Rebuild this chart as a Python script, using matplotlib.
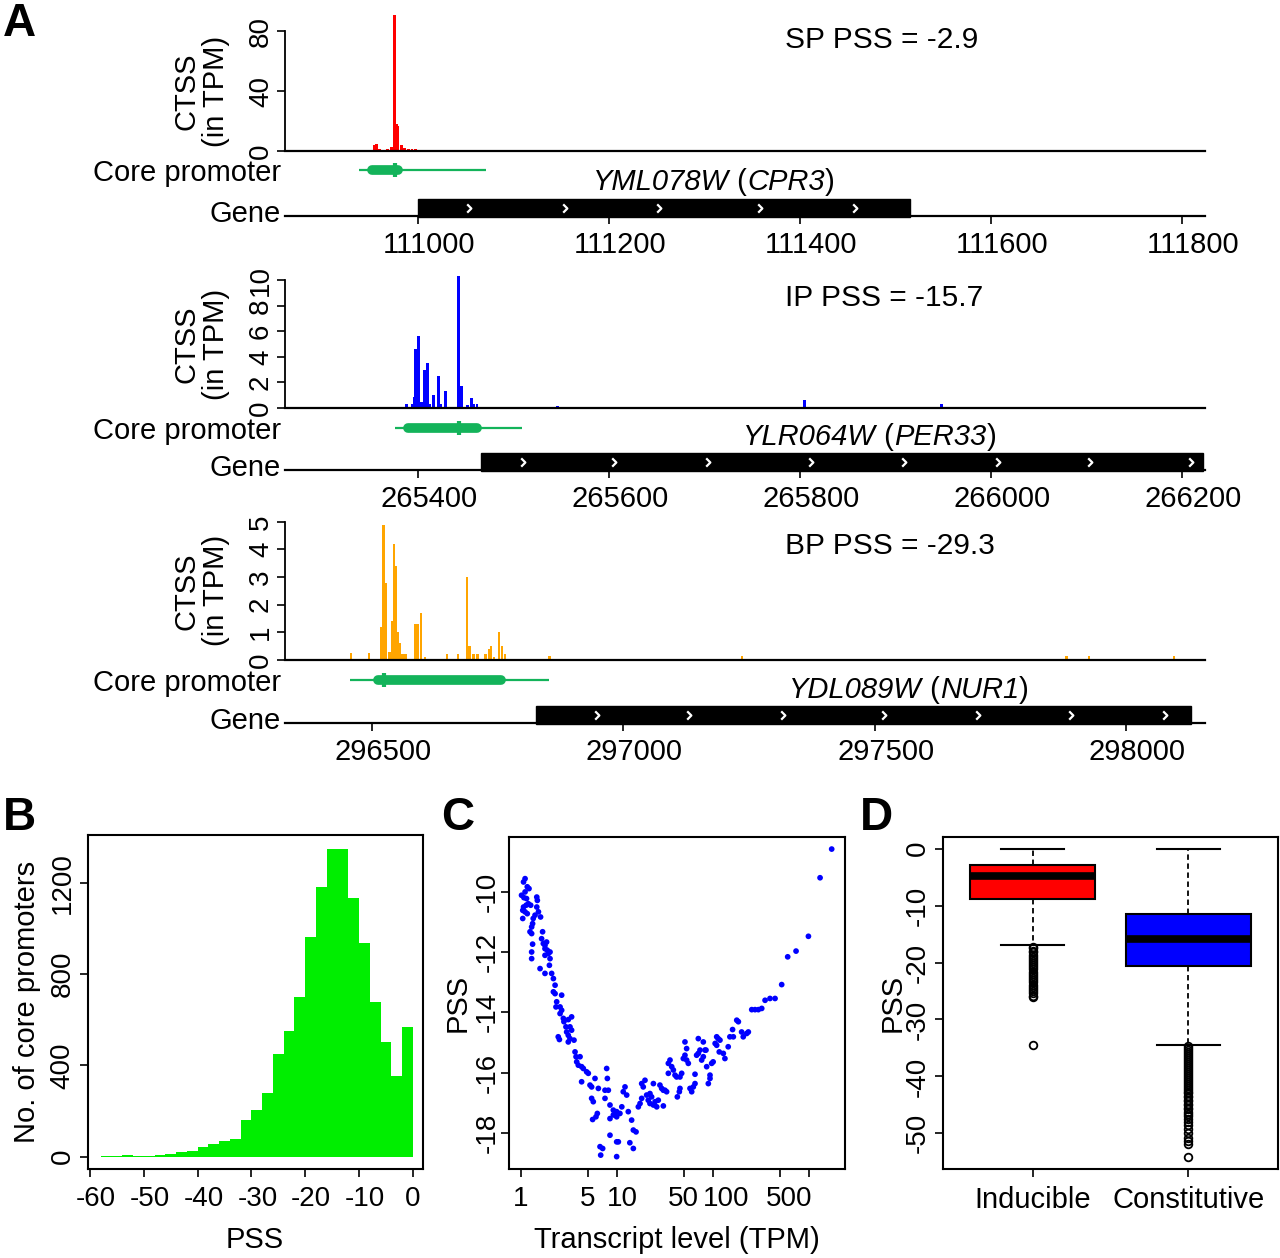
#
# Core promoter shape figure: CTSS tracks (A), PSS histogram (B),
# PSS vs transcript level (C) and PSS by promoter class (D)
#

import matplotlib
matplotlib.use("Agg")
import matplotlib.pyplot as plt
from matplotlib.patches import Rectangle
from matplotlib.path import Path
from matplotlib.transforms import ScaledTranslation
from matplotlib.offsetbox import TextArea, HPacker, AnnotationBbox

plt.rcParams['font.family'] = ['Liberation Sans', 'DejaVu Sans']
plt.rcParams['axes.unicode_minus'] = False

# ---------------- data: panel A ----------------
sp_pos = [110955, 110957, 110960, 110964, 110968, 110972, 110973, 110976,
          110978, 110979, 110983, 110986, 110990, 110994, 110998, 111002,
          111032, 111277, 111339]
sp_tpm = [4, 4.5, 1.5, 1, 1.5, 2.5, 3, 91, 18, 17, 4, 2, 1.5, 1.5, 1.5, 1,
          1, 0.6, 0.6]
sp_promoter = (110938, 110952, 110979, 111071)   # thin start, thick start, thick end, thin end
sp_dominant = 110976
sp_gene = (111000, 111515)
sp_chevrons = [111054, 111154, 111253, 111358, 111458]

ip_pos = [265388, 265394, 265396, 265398, 265401, 265404, 265407, 265410,
          265412, 265416, 265422, 265424, 265429, 265443, 265446, 265452,
          265456, 265458, 265462, 265546, 265805, 265948]
ip_tpm = [0.3, 0.3, 0.9, 4.6, 5.6, 0.5, 3.0, 3.5, 0.3, 1.0, 2.5, 0.3, 1.3,
          10.3, 1.7, 0.2, 0.8, 0.3, 0.3, 0.15, 0.6, 0.3]
ip_promoter = (265376, 265390, 265462, 265509)
ip_dominant = 265443
ip_gene = (265466, 266222)
ip_chevrons = [265510, 265605, 265704, 265812, 265909, 266007, 266104, 266209]

bp_pos = [296458, 296494, 296519, 296523, 296527, 296535, 296540, 296544,
          296548, 296552, 296556, 296560, 296564, 296568, 296587, 296592,
          296598, 296605, 296649, 296671, 296689, 296694, 296702, 296710,
          296726, 296733, 296737, 296743, 296753, 296759, 296765, 296853,
          297236, 297882, 297926, 298095]
bp_tpm = [0.25, 0.25, 1.2, 4.9, 2.8, 0.3, 1.4, 4.2, 3.4, 1.0, 0.6, 0.2, 0.2,
          0.2, 1.3, 1.3, 1.7, 0.1, 0.2, 0.2, 3.0, 0.5, 0.2, 0.2, 0.2, 0.4,
          0.5, 0.1, 1.0, 0.5, 0.2, 0.15, 0.15, 0.15, 0.15, 0.15]
bp_promoter = (296456, 296511, 296757, 296853)
bp_dominant = 296523
bp_gene = (296826, 298130)
bp_chevrons = [296948, 297131, 297317, 297518, 297705, 297890, 298078]

# ---------------- data: panel B ----------------
hist_left = [-58, -56, -54, -52, -50, -48, -46, -44, -42, -40, -38, -36, -34,
             -32, -30, -28, -26, -24, -22, -20, -18, -16, -14, -12, -10, -8,
             -6, -4, -2]
hist_counts = [2, 4, 8, 5, 4, 6, 12, 22, 27, 42, 55, 67, 78, 162, 203, 277,
               448, 551, 701, 963, 1182, 1348, 1348, 1131, 937, 679, 501, 355,
               569]

# ---------------- data: panel C ----------------
transcript_tpm = [
    1.11, 1.07, 1.17, 1.22, 1.11, 1.02, 1.08, 1.15, 1.47, 1.49, 1.07, 1.14,
    1.20, 1.27, 1.05, 1.11, 1.17, 1.47, 1.53, 1.41, 1.61, 1.05, 1.35, 1.33,
    1.30, 1.25, 1.30, 1.69, 1.65, 1.33, 1.72, 1.79, 1.86, 1.79, 1.89, 1.94,
    1.79, 2.02, 1.30, 1.30, 2.02, 1.99, 1.59, 1.79, 2.10, 2.19, 2.28, 2.19,
    2.28, 2.67, 2.37, 2.33, 2.57, 2.67, 2.57, 2.78, 3.39, 3.13, 2.82, 2.96,
    3.26, 3.39, 3.01, 3.13, 3.26, 2.46, 2.53, 3.59, 3.13, 3.68, 3.77, 4.15,
    3.83, 3.98, 4.31, 4.49, 4.86, 5.06, 4.31, 5.94, 5.27, 5.48, 6.44, 7.86,
    7.99, 7.55, 8.18, 5.48, 5.70, 7.55, 8.51, 9.22, 9.99, 9.22, 8.51, 9.99,
    10.8, 11.3, 12.2, 11.7, 12.7, 13.2, 14.3, 6.28, 6.08, 5.61, 8.51, 6.70,
    7.14, 6.81, 9.99, 10.4, 9.99, 13.7,
    14.9, 15.9, 14.9, 16.8, 17.5, 18.2, 18.2, 19.7, 18.9, 20.5, 21.3, 22.2,
    23.1, 24.1, 22.2, 24.1, 25.1, 26.1, 27.1, 28.2, 29.4, 30.6, 31.8, 33.1,
    30.6, 34.5, 35.9, 37.4, 34.5, 38.9, 40.5, 42.1, 47.5, 45.6, 42.8, 44.9,
    45.6, 58.0, 60.4, 62.8, 65.4, 65.4, 51.4, 53.5, 51.4, 53.5, 55.7, 49.4,
    68.0, 70.8, 73.7, 76.7, 79.8, 85.1, 86.5, 97.5, 101, 90.0, 93.7, 93.7,
    70.8, 79.8, 83.1, 110, 114, 106, 119, 110, 117, 129, 134, 145, 151, 164,
    161, 178, 185, 200, 208, 226, 235, 255, 276, 299, 324, 351, 395, 446,
    523, 604, 738, 993, 1313, 1735]
transcript_pss = [
    -9.57, -9.68, -9.84, -9.90, -10.01, -10.12, -10.20, -10.23, -10.18,
    -10.29, -10.51, -10.45, -10.40, -10.45, -10.62, -10.67, -10.73, -10.51,
    -10.67, -10.78, -10.84, -10.89, -10.89, -11.06, -11.17, -11.33, -11.39,
    -11.33, -11.56, -11.74, -11.72, -11.78, -11.67, -11.89, -11.94, -12.05,
    -12.11, -12.00, -12.00, -12.22, -12.22, -12.44, -12.55, -12.71, -12.71,
    -12.88, -13.10, -13.32, -13.38, -13.43, -13.65, -13.82, -13.82, -13.93,
    -14.04, -14.20, -14.15, -14.24, -14.31, -14.48, -14.48, -14.59, -14.65,
    -14.76, -14.87, -14.81, -14.90, -14.92, -14.98, -15.31, -15.47, -15.47,
    -15.64, -15.75, -15.80, -15.86, -15.97, -16.02, -16.30, -16.19, -16.41,
    -16.47, -16.52, -15.86, -16.19, -16.58, -16.58, -16.85, -16.96, -16.85,
    -17.07, -17.24, -17.29, -17.40, -17.52, -17.46, -17.35, -17.13, -16.47,
    -16.63, -16.74, -17.29, -17.57, -17.35, -17.46, -17.55, -18.07, -18.45,
    -18.51, -18.73, -18.29, -18.29, -18.78, -18.32,
    -17.90, -17.96, -18.51, -17.13, -17.02, -16.85, -16.36, -16.25, -16.47,
    -16.74, -16.91, -16.69, -16.80, -16.36, -17.02, -17.07, -16.96, -17.13,
    -16.91, -16.41, -16.52, -16.58, -16.58, -16.63, -17.10, -15.69, -15.58,
    -15.80, -16.02, -15.91, -16.08, -16.14, -16.02, -16.14, -16.80, -16.63,
    -16.52, -16.52, -16.63, -16.47, -16.36, -16.05, -14.98, -15.20, -15.42,
    -15.58, -15.69, -15.53, -15.42, -15.36, -15.25, -15.58, -15.47, -15.25,
    -15.80, -15.69, -15.64, -16.36, -16.19, -16.08, -14.87, -14.98, -15.25,
    -14.81, -14.87, -15.03, -14.92, -15.09, -15.31, -15.36, -15.53, -15.14,
    -14.81, -14.81, -14.57, -14.26, -14.31, -14.65, -14.81, -14.70, -14.65,
    -13.91, -13.91, -13.91, -13.87, -13.60, -13.54, -13.54, -13.08, -12.16,
    -11.97, -11.48, -9.54, -8.59]
log_ticks = [1, 5, 10, 50, 100, 500, 1000]
log_tick_labels = ['1', '5', '10', '50', '100', '500', '']

# ---------------- data: panel D ----------------
classes = ['Inducible', 'Constitutive']
box_median = [-4.85, -15.9]
box_q1 = [-8.8, -20.7]
box_q3 = [-2.9, -11.5]
whisker_low = [-17.0, -34.4]
whisker_high = [0.0, 0.0]
inducible_outliers = [-17.2, -17.5, -17.9, -18.2, -18.6, -19.0, -19.3, -19.7,
                      -20.1, -20.4, -20.8, -21.2, -21.6, -22.0, -22.3, -22.7,
                      -23.1, -23.5, -23.9, -24.3, -24.7, -25.0, -25.4, -25.8,
                      -26.1, -34.5]
constitutive_outliers = [-34.6, -35.0, -35.3, -35.7, -36.0, -36.4, -36.7,
                         -37.1, -37.4, -37.8, -38.1, -38.5, -38.8, -39.2,
                         -39.5, -39.9, -40.2, -40.6, -40.9, -41.3, -41.6,
                         -42.0, -42.3, -42.7, -43.0, -43.4, -43.7, -44.1,
                         -44.4, -44.8, -45.1, -45.5, -45.8, -46.2, -46.6,
                         -47.0, -47.5, -48.0, -48.6, -49.3, -49.9, -50.8,
                         -51.3, -51.8, -54.1]

GREEN = '#13b35a'
W, H = 1280, 1258


def frame(left, top, right, bottom):
    """Axes rectangle in figure fractions from pixel edges."""
    return [left / W, 1 - bottom / H, (right - left) / W, (bottom - top) / H]


def fx(x):
    return x / W


def fy(y):
    return 1 - y / H


def nudge_xlabels(fig, ax, shifts):
    """Shift x tick labels sideways by a few pixels (R label placement)."""
    for label, dx in zip(ax.get_xticklabels(), shifts):
        offset = ScaledTranslation(dx / fig.dpi, 0, fig.dpi_scale_trans)
        label.set_transform(label.get_transform() + offset)


chevron = Path([(-0.55, 1.0), (0.45, 0.0), (-0.55, -1.0)],
               [Path.MOVETO, Path.LINETO, Path.LINETO])


def gene_label(ax, x, y, systematic, common):
    """Gene name with italic names and upright parentheses."""
    italic = dict(fontsize=21, style='italic')
    upright = dict(fontsize=21)
    parts = [TextArea(systematic, textprops=italic),
             TextArea(' (', textprops=upright),
             TextArea(common, textprops=italic),
             TextArea(')', textprops=upright)]
    box = HPacker(children=parts, align='baseline', pad=0, sep=0)
    ab = AnnotationBbox(box, (x, y), xycoords='data', frameon=False,
                        box_alignment=(0.5, 0.5), pad=0,
                        annotation_clip=False)
    ax.add_artist(ab)


def draw_track(fig, pos, tpm, color, bar_width, ymax, yticks, xlim, xticks,
               promoter, dominant, gene, names, name_x, chevrons,
               pss_text, top, base, prom_y, axis_y, name_y):
    """CTSS histogram, core promoter, gene model and genome axis."""
    ax = fig.add_axes(frame(285, top, 1205, base))
    ax.bar(pos, tpm, width=bar_width, color=color, linewidth=0)
    ax.set_xlim(xlim)
    ax.set_ylim(0, ymax)
    ax.patch.set_alpha(0)
    ax.spines['top'].set_visible(False)
    ax.spines['right'].set_visible(False)
    ax.spines['left'].set_bounds(0, yticks[-1])
    ax.spines['left'].set_linewidth(1.3)
    ax.spines['bottom'].set_linewidth(1.6)
    ax.set_xticks([])
    ax.set_yticks(yticks)
    ax.set_yticklabels([str(t) for t in yticks])
    ax.tick_params(axis='y', length=6, width=1.2, labelsize=20, pad=2)
    plt.setp(ax.get_yticklabels(), rotation=90, va='center')

    tick_top = base - yticks[-1] * (base - top) / ymax
    mid = fy((tick_top + base) / 2)
    fig.text(fx(186), mid, 'CTSS', rotation=90, ha='center', va='center',
             fontsize=21)
    fig.text(fx(216), mid, '(in TPM)', rotation=90, ha='center',
             va='center', fontsize=21)
    fig.text(fx(785), fy(top + 28), pss_text, ha='left', va='center',
             fontsize=21.5)

    ax2 = fig.add_axes(frame(285, base, 1205, axis_y))
    ax2.set_xlim(xlim)
    ax2.set_ylim(axis_y, base)
    ax2.patch.set_alpha(0)
    for side in ['top', 'left', 'right']:
        ax2.spines[side].set_visible(False)
    ax2.spines['bottom'].set_linewidth(1.6)
    ax2.set_yticks([])
    ax2.set_xticks(xticks)
    ax2.set_xticklabels([str(t) for t in xticks])
    ax2.tick_params(axis='x', length=6, width=1.2, labelsize=21, pad=5)
    nudge_xlabels(fig, ax2, [11] * len(xticks))

    ax2.hlines(prom_y, promoter[0], promoter[3], color=GREEN, lw=1.6)
    ax2.plot([promoter[1], promoter[2]], [prom_y, prom_y], color=GREEN,
             lw=7, solid_capstyle='round')
    ax2.vlines(dominant, prom_y - 7, prom_y + 7, color=GREEN, lw=3)

    ax2.add_patch(Rectangle((gene[0], axis_y - 17), gene[1] - gene[0], 18,
                            facecolor='black', edgecolor='black',
                            clip_on=False, zorder=3))
    ax2.plot(chevrons, [axis_y - 8] * len(chevrons), ls='none',
             marker=chevron, ms=6, mew=1.6, mec='white', mfc='none',
             clip_on=False, zorder=4)
    gene_label(ax2, name_x, name_y, names[0], names[1])

    fig.text(fx(281), fy(prom_y + 3), 'Core promoter', ha='right',
             va='center', fontsize=21)
    fig.text(fx(281), fy(axis_y - 2), 'Gene', ha='right', va='center',
             fontsize=21)


def style_box_axes(ax, ypad=3):
    for side in ax.spines.values():
        side.set_linewidth(1.5)
    ax.tick_params(length=6, width=1.2, labelsize=20)
    ax.tick_params(axis='x', pad=6)
    ax.tick_params(axis='y', pad=ypad)


def make_figure():
    fig = plt.figure(figsize=(12.8, 12.58), dpi=100)

    # ---- panel A ----
    draw_track(fig, sp_pos, sp_tpm, '#ff0000', 3, 92.7, [0, 40, 80],
               (110861, 111824), [111000, 111200, 111400, 111600, 111800],
               sp_promoter, sp_dominant, sp_gene, ('YML078W', 'CPR3'),
               111310, sp_chevrons, 'SP PSS = -2.9', top=12, base=151,
               prom_y=170, axis_y=216, name_y=182)
    draw_track(fig, ip_pos, ip_tpm, '#0000ff', 3, 10.8,
               [0, 2, 4, 6, 8, 10],
               (265261, 266224), [265400, 265600, 265800, 266000, 266200],
               ip_promoter, ip_dominant, ip_gene, ('YLR064W', 'PER33'),
               265873, ip_chevrons, 'IP PSS = -15.7', top=270, base=408,
               prom_y=428, axis_y=470, name_y=437)
    draw_track(fig, bp_pos, bp_tpm, '#ffa500', 5, 5.14,
               [0, 1, 2, 3, 4, 5],
               (296327, 298157), [296500, 297000, 297500, 298000],
               bp_promoter, bp_dominant, bp_gene, ('YDL089W', 'NUR1'),
               297568, bp_chevrons, 'BP PSS = -29.3', top=518, base=660,
               prom_y=680, axis_y=723, name_y=690)

    # ---- panel B ----
    axb = fig.add_axes(frame(88, 835, 423, 1169))
    axb.bar(hist_left, hist_counts, width=2, align='edge', color='#00ee00',
            linewidth=0)
    axb.set_xlim(-60.4, 1.9)
    axb.set_ylim(-54, 1409)
    axb.set_xticks([-60, -50, -40, -30, -20, -10, 0])
    axb.set_yticks([0, 400, 800, 1200])
    style_box_axes(axb)
    plt.setp(axb.get_yticklabels(), rotation=90, va='center')
    nudge_xlabels(fig, axb, [6, 6, 6, 6, 6, 6, 0])
    fig.text(fx(255), fy(1240), 'PSS', ha='center', va='center', fontsize=21)
    fig.text(fx(27), fy(1002), 'No. of core promoters', rotation=90,
             ha='center', va='center', fontsize=21)

    # ---- panel C ----
    axc = fig.add_axes(frame(509, 837, 845, 1169))
    axc.scatter(transcript_tpm, transcript_pss, s=17, color='#0000ff',
                edgecolors='none')
    axc.set_xscale('log')
    axc.set_xlim(10 ** -0.122, 10 ** 3.378)
    axc.set_ylim(-19.19, -8.19)
    axc.set_xticks(log_ticks)
    axc.set_xticklabels(log_tick_labels)
    axc.minorticks_off()
    axc.set_yticks([-18, -16, -14, -12, -10])
    style_box_axes(axc, ypad=0)
    plt.setp(axc.get_yticklabels(), rotation=90, va='center')
    nudge_xlabels(fig, axc, [0, 0, 6, 0, 13, 9, 0])
    fig.text(fx(677), fy(1240), 'Transcript level (TPM)', ha='center',
             va='center', fontsize=21)
    fig.text(fx(458), fy(1003), 'PSS', rotation=90, ha='center',
             va='center', fontsize=21)

    # ---- panel D ----
    axd = fig.add_axes(frame(943, 837, 1278, 1169))
    outliers = [inducible_outliers, constitutive_outliers]
    stats = []
    for i, name in enumerate(classes):
        stats.append(dict(label=name, med=box_median[i], q1=box_q1[i],
                          q3=box_q3[i], whislo=whisker_low[i],
                          whishi=whisker_high[i], fliers=outliers[i]))
    parts = axd.bxp(stats, positions=[1, 2], widths=0.8, patch_artist=True,
                    capwidths=0.4,
                    boxprops=dict(linewidth=1.5, edgecolor='black'),
                    whiskerprops=dict(linewidth=1.3, linestyle=(0, (3, 2))),
                    capprops=dict(linewidth=1.5),
                    medianprops=dict(color='black', linewidth=5.5),
                    flierprops=dict(marker='o', markerfacecolor='none',
                                    markeredgecolor='black', markersize=5.5,
                                    markeredgewidth=1.3))
    for patch, color in zip(parts['boxes'], ['#ff0000', '#0000ff']):
        patch.set_facecolor(color)
    axd.set_xlim(0.425, 2.575)
    axd.set_ylim(-56.26, 2.04)
    axd.set_yticks([-50, -40, -30, -20, -10, 0])
    axd.set_xticks([1, 2])
    axd.set_xticklabels(classes)
    style_box_axes(axd)
    axd.tick_params(axis='x', labelsize=21)
    plt.setp(axd.get_yticklabels(), rotation=90, va='center')
    fig.text(fx(893), fy(1003), 'PSS', rotation=90, ha='center',
             va='center', fontsize=21)

    # ---- panel letters ----
    for letter, x, y in [('A', 3, 24), ('B', 3, 818), ('C', 441, 818),
                         ('D', 860, 818)]:
        fig.text(fx(x), fy(y), letter, fontsize=33, fontweight='bold',
                 ha='left', va='center')

    fig.savefig('out.png', dpi=100)


if __name__ == '__main__':
    make_figure()
